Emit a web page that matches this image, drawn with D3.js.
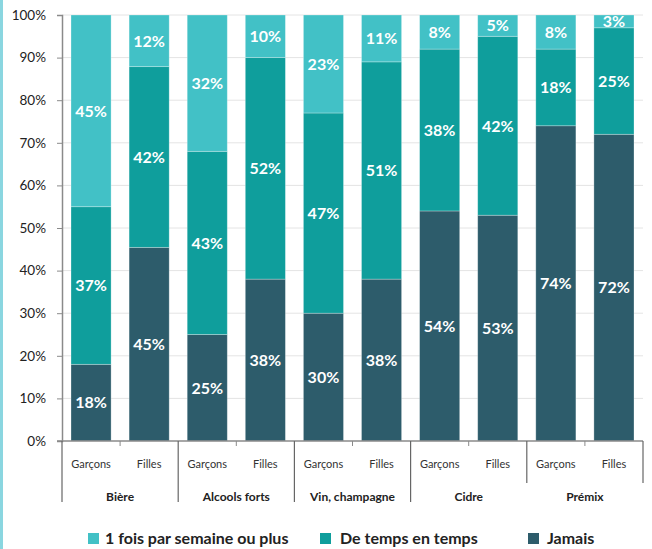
<!DOCTYPE html>
<html><head><meta charset="utf-8">
<script src="https://cdn.jsdelivr.net/npm/d3@7"></script>
<style>body{margin:0;background:#fff}svg{display:block}</style>
</head><body>
<svg id="c" width="652" height="549"></svg>
<script>
const groups = ["Bière","Alcools forts","Vin, champagne","Cidre","Prémix"];
const sexes = ["Garçons","Filles"];
const jamais = [18,45,25,38,30,38,54,53,74,72];
const deTemps = [37,42,43,52,47,51,38,42,18,25];
const uneFois = [45,12,32,10,23,11,8,5,8,3];
const seriesNames = ["Jamais","De temps en temps","1 fois par semaine ou plus"];
const legendOrder = ["1 fois par semaine ou plus","De temps en temps","Jamais"];
const yTicks = [0,0.1,0.2,0.3,0.4,0.5,0.6,0.7,0.8,0.9,1];

const colors = {"Jamais":"#2d5c6b","De temps en temps":"#0f9e9c","1 fois par semaine ou plus":"#42c1c6"};

const rows = [];
groups.forEach((g,gi)=>sexes.forEach((s,si)=>{
  const i = gi*2+si;
  rows.push({key:g+"|"+s, group:g, sex:s, "Jamais":jamais[i], "De temps en temps":deTemps[i], "1 fois par semaine ou plus":uneFois[i]});
}));

const svg = d3.select("#c");
const L=62, R=643, T=15, B=441;
const x = d3.scaleBand().domain(rows.map(r=>r.key)).range([L,R]).paddingInner(0.31).paddingOuter(0.155);
const xg = d3.scaleBand().domain(groups).range([L,R]);
const y = d3.scaleLinear().domain([0,1]).range([B,T]);

// left border
svg.append("rect").attr("x",0).attr("y",0).attr("width",3).attr("height",549).attr("fill","#8ad6e0");

// gridlines
svg.append("g").selectAll("line").data(yTicks.filter(d=>d>0)).join("line")
  .attr("x1",L).attr("x2",R).attr("y1",d=>y(d)).attr("y2",d=>y(d))
  .attr("stroke","#e4e4e4").attr("stroke-width",1);

const stack = d3.stack().keys(seriesNames).offset(d3.stackOffsetExpand);
const stacked = stack(rows);

const layers = svg.append("g").selectAll("g").data(stacked).join("g")
  .attr("fill",d=>colors[d.key]);
layers.selectAll("rect").data(d=>d).join("rect")
  .attr("x",d=>x(d.data.key)).attr("width",x.bandwidth())
  .attr("y",d=>y(d[1])).attr("height",d=>y(d[0])-y(d[1]))
  .attr("stroke","rgba(255,255,255,0.35)").attr("stroke-width",0.8);

// labels
stacked.forEach(layer=>{
  svg.append("g").selectAll("text").data(layer).join("text")
    .attr("x",d=>x(d.data.key)+x.bandwidth()/2)
    .attr("y",d=>(y(d[0])+y(d[1]))/2)
    .attr("dy","0.36em")
    .attr("text-anchor","middle")
    .attr("fill","#fff")
    .attr("font-family","Lato, 'Open Sans', sans-serif")
    .attr("font-weight","bold").attr("font-size","16px")
    .text(d=>d.data[layer.key]+"%");
});

// y axis
const yAxis = d3.axisLeft(y).tickValues(yTicks).tickFormat(d3.format(".0%")).tickSize(5).tickPadding(11);
const ya = svg.append("g").attr("transform",`translate(${L},0)`).call(yAxis);
ya.select(".domain").attr("stroke","#8a8a8a").attr("stroke-width",1.5);
ya.selectAll(".tick line").attr("stroke","#8a8a8a");
ya.selectAll("text").attr("font-family","Lato, 'Open Sans', sans-serif").attr("font-size","13.5px").attr("fill","#222");

// x axis baseline
svg.append("line").attr("x1",L-5).attr("x2",R).attr("y1",B).attr("y2",B).attr("stroke","#8a8a8a").attr("stroke-width",1.5);

// small ticks between bars of a group
svg.append("g").selectAll("line").data(groups).join("line")
  .attr("x1",d=>xg(d)+xg.bandwidth()/2).attr("x2",d=>xg(d)+xg.bandwidth()/2)
  .attr("y1",B).attr("y2",B+5).attr("stroke","#8a8a8a");

// group separators
const seps = groups.map(g=>xg(g)).concat([R]);
svg.append("g").selectAll("line").data(seps).join("line")
  .attr("x1",d=>d).attr("x2",d=>d).attr("y1",B)
  .attr("y2",(d,i)=> i>=4 ? 483 : 502)
  .attr("stroke","#666").attr("stroke-width",1.2);

// sex labels
svg.append("g").selectAll("text").data(rows).join("text")
  .attr("x",d=>x(d.key)+x.bandwidth()/2).attr("y",468)
  .attr("text-anchor","middle").attr("fill","#333")
  .attr("font-family","Lato, 'Open Sans', sans-serif").attr("font-size","11px")
  .text(d=>d.sex);

// group labels
svg.append("g").selectAll("text").data(groups).join("text")
  .attr("x",d=>xg(d)+xg.bandwidth()/2).attr("y",501)
  .attr("text-anchor","middle").attr("fill","#222")
  .attr("font-family","Lato, 'Open Sans', sans-serif").attr("font-size","12px").attr("font-weight","bold")
  .text(d=>d);

// legend
const legX = [88,320,528];
const leg = svg.append("g").selectAll("g").data(legendOrder).join("g")
  .attr("transform",(d,i)=>`translate(${legX[i]},533)`);
leg.append("rect").attr("width",11).attr("height",11).attr("fill",d=>colors[d]);
leg.append("text").attr("x",d=>d==="1 fois par semaine ou plus"?17:(d==="Jamais"?19:20)).attr("y",10.5)
  .attr("fill","#222").attr("font-family","Lato, 'Open Sans', sans-serif")
  .attr("font-weight","bold").attr("font-size","16px").text(d=>d);
</script>
</body></html>
